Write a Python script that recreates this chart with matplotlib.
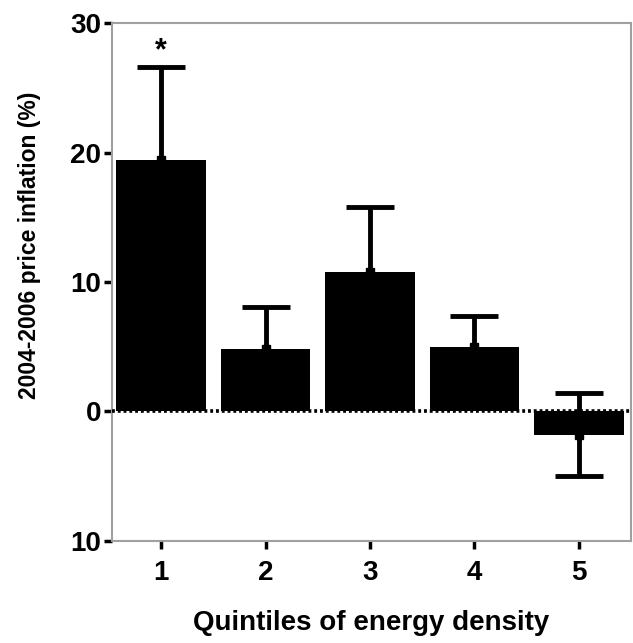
import matplotlib.pyplot as plt
from matplotlib.ticker import FixedLocator, FixedFormatter

quintiles = [1, 2, 3, 4, 5]
inflation = [19.4, 4.8, 10.8, 4.95, -1.8]
sem = [7.2, 3.3, 5.0, 2.4, 3.2]
y_ticks = [-10, 0, 10, 20, 30]
y_tick_labels = ['10', '0', '10', '20', '30']

plt.rcParams['font.family'] = ['Liberation Sans', 'DejaVu Sans']
plt.rcParams['font.weight'] = 'bold'

fig = plt.figure(figsize=(6.33, 6.43), dpi=100)
ax = fig.add_axes([0.177, 0.159, 0.82, 0.805])

ax.bar(quintiles, inflation, width=0.86, color='black', zorder=2)
ax.errorbar(quintiles, inflation, yerr=sem, fmt='s', color='black',
            markersize=6, elinewidth=3.5, capsize=17, capthick=3.5, zorder=3)
ax.axhline(0, color='black', linestyle=(0, (0.8, 0.8)), linewidth=2.6, zorder=4)

# significance marker over the first quintile
ax.text(quintiles[0], inflation[0] + sem[0] + 0.1, '*', ha='center', va='bottom',
        fontsize=22, fontweight='bold')

ax.set_xlim(0.53, 5.5)
ax.set_ylim(-10, 30)
ax.yaxis.set_major_locator(FixedLocator(y_ticks))
ax.yaxis.set_major_formatter(FixedFormatter(y_tick_labels))
ax.set_xticks(quintiles)
ax.set_xticklabels([str(q) for q in quintiles])

for side in ['left', 'right', 'top', 'bottom']:
    ax.spines[side].set_color('#a0a0a0')
    ax.spines[side].set_linewidth(1.5)

ax.tick_params(axis='both', direction='out', length=6, width=2.5, color='black',
               labelsize=20)
ax.tick_params(axis='x', pad=8)
ax.tick_params(axis='y', pad=2)

ax.set_xlabel('Quintiles of energy density', fontsize=20, fontweight='bold')
ax.xaxis.set_label_coords(0.5, -0.134)
ax.set_ylabel('2004-2006 price inflation (%)', fontsize=16.5, fontweight='bold')
ax.yaxis.set_label_coords(-0.137, 0.57)

fig.savefig('out.png', dpi=100)
